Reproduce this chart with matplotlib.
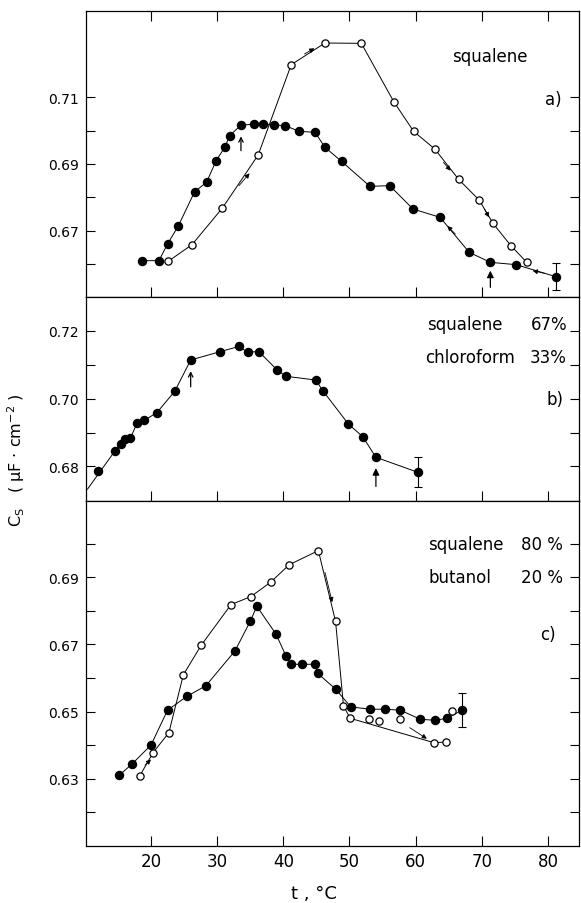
import matplotlib
matplotlib.use("Agg")
import matplotlib.pyplot as plt

plt.rcParams['font.family'] = ['DejaVu Sans']

# ---------------- data ----------------
# panel a) squalene
t_a_fill = [18.7, 21.2, 22.5, 24.1, 26.6, 28.4, 29.8, 31.2, 31.9, 33.6, 35.5, 36.9, 38.6,
            40.3, 42.4, 44.8, 46.3, 48.8, 53.1, 56.1, 59.6, 63.7, 68.1, 71.3, 75.2, 81.2]
v_a_fill = [0.6610, 0.6610, 0.6660, 0.6713, 0.6817, 0.6845, 0.6908, 0.6952, 0.6985, 0.7017,
            0.7019, 0.7019, 0.7017, 0.7015, 0.6998, 0.6995, 0.6950, 0.6908, 0.6833, 0.6835,
            0.6765, 0.6740, 0.6635, 0.6605, 0.6598, 0.6562]
t_a_open = [22.6, 26.2, 30.8, 36.2, 41.2, 46.3, 51.8, 56.7, 59.7, 62.9, 66.5, 69.6, 71.7, 74.4, 76.8]
v_a_open = [0.6608, 0.6658, 0.6768, 0.6927, 0.7198, 0.7263, 0.7262, 0.7087, 0.6998, 0.6945,
            0.6854, 0.6792, 0.6722, 0.6655, 0.6605]
err_a = 0.004

# panel b) squalene 67 % / chloroform 33 %
t_b_fill = [12.0, 14.6, 15.4, 16.0, 16.9, 17.9, 19.0, 20.9, 23.6, 26.0, 30.5, 33.3, 34.6,
            36.3, 39.0, 40.4, 44.9, 46.0, 49.8, 52.0, 54.0, 60.3]
v_b_fill = [0.6788, 0.6847, 0.6867, 0.6882, 0.6884, 0.6928, 0.6936, 0.6959, 0.7022, 0.7114,
            0.7139, 0.7154, 0.7137, 0.7139, 0.7086, 0.7066, 0.7055, 0.7023, 0.6926, 0.6888,
            0.6827, 0.6783]
t_b_curve_start = 10.4
v_b_curve_start = 0.6733
err_b = 0.0045

# panel c) squalene 80 % / butanol 20 %
t_c_fill = [15.2, 17.1, 20.0, 22.5, 25.4, 28.3, 32.7, 35.0, 36.0, 38.9, 40.4, 41.2, 42.9,
            44.8, 45.2, 47.9, 50.2, 53.1, 55.3, 57.7, 60.7, 62.9, 64.8, 67.0]
v_c_fill = [0.6310, 0.6343, 0.6400, 0.6504, 0.6545, 0.6577, 0.6681, 0.6769, 0.6814, 0.6731,
            0.6666, 0.6641, 0.6641, 0.6641, 0.6614, 0.6567, 0.6514, 0.6507, 0.6507, 0.6504,
            0.6477, 0.6474, 0.6480, 0.6504]
t_c_open = [18.3, 20.3, 22.7, 24.9, 27.6, 32.1, 35.1, 38.1, 40.9, 45.3, 47.9, 49.1, 50.1,
            53.0, 54.5, 57.6, 62.8, 64.6, 65.5]
v_c_open = [0.6308, 0.6377, 0.6437, 0.6610, 0.6698, 0.6819, 0.6843, 0.6886, 0.6938, 0.6980,
            0.6769, 0.6517, 0.6480, 0.6477, 0.6472, 0.6477, 0.6407, 0.6409, 0.6502]
c_open_curve_idx = [0, 1, 2, 3, 4, 5, 6, 7, 8, 9, 10, 11, 12, 16, 17]
err_c = 0.005

# arrows (tail t, tail v, head t, head v)
arrows_a_small = [(33.3, 0.6835, 34.9, 0.6872), (43.2, 0.7230, 44.7, 0.7247),
                  (64.2, 0.6905, 65.3, 0.6880), (70.4, 0.6765, 71.1, 0.6740),
                  (66.0, 0.6690, 64.8, 0.6714), (79.5, 0.6572, 77.7, 0.6580)]
arrows_a_big = [(33.6, 0.6940, 33.6, 0.6983, False), (71.3, 0.6530, 71.3, 0.6580, True)]
arrows_b_big = [(26.0, 0.7035, 26.0, 0.7081, False), (54.0, 0.6741, 54.0, 0.6795, True)]
arrows_c_small = [(19.1, 0.6340, 20.0, 0.6357), (46.3, 0.6915, 47.4, 0.6826),
                  (59.1, 0.6452, 61.7, 0.6419)]

x_ticks = [20, 30, 40, 50, 60, 70, 80]

# ---------------- figure ----------------
W, H = 581, 904
fig = plt.figure(figsize=(W / 100, H / 100), dpi=100)

L, R = 85.5, 579.0


def make_ax(top, bottom):
    return fig.add_axes([L / W, 1 - bottom / H, (R - L) / W, (bottom - top) / H])


ax_a = make_ax(12, 298)
ax_b = make_ax(298, 502)
ax_c = make_ax(502, 847)

fill_kw = dict(marker='o', ms=5.8, mfc='black', mec='black', ls='none', zorder=4)
open_kw = dict(marker='o', ms=5.2, mfc='white', mec='black', mew=0.9, ls='none', zorder=4)
line_kw = dict(color='black', lw=0.7, zorder=2)

for ax in (ax_a, ax_b, ax_c):
    ax.set_xlim(10.1, 84.7)
    ax.set_xticks(x_ticks)
    for sp in ax.spines.values():
        sp.set_linewidth(0.9)
    ax.tick_params(axis='x', direction='in', length=7, width=0.8, labelsize=12, pad=4)
    ax.tick_params(axis='y', direction='in', length=6.5, width=0.8, labelsize=10, pad=5,
                   left=True, right=True)

# panel a
ax_a.set_ylim(0.6501, 0.7359)
ax_a.set_yticks([0.66, 0.67, 0.68, 0.69, 0.70, 0.71])
ax_a.set_yticklabels(['', '0.67', '', '0.69', '', '0.71'])
ax_a.tick_params(axis='x', top=True, bottom=True, labelbottom=False)
ax_a.plot(t_a_fill, v_a_fill, **line_kw)
ax_a.plot(t_a_open, v_a_open, **line_kw)
ax_a.plot(t_a_fill, v_a_fill, **fill_kw)
ax_a.plot(t_a_open, v_a_open, **open_kw)
ax_a.errorbar([t_a_fill[-1]], [v_a_fill[-1]], yerr=[err_a], fmt='none', ecolor='black',
              elinewidth=0.8, capsize=3, capthick=0.8)

# panel b
ax_b.set_ylim(0.6698, 0.7300)
ax_b.set_yticks([0.68, 0.69, 0.70, 0.71, 0.72])
ax_b.set_yticklabels(['0.68', '', '0.70', '', '0.72'])
ax_b.tick_params(axis='x', top=False, bottom=True, labelbottom=False)
ax_b.plot([t_b_curve_start] + t_b_fill[1:], [v_b_curve_start] + v_b_fill[1:], **line_kw)
ax_b.plot(t_b_fill, v_b_fill, **fill_kw)
ax_b.errorbar([t_b_fill[-1]], [v_b_fill[-1]], yerr=[err_b], fmt='none', ecolor='black',
              elinewidth=0.8, capsize=3, capthick=0.8)

# panel c
ax_c.set_ylim(0.6099, 0.7128)
ax_c.set_yticks([0.62, 0.63, 0.64, 0.65, 0.66, 0.67, 0.68, 0.69, 0.70])
ax_c.set_yticklabels(['', '0.63', '', '0.65', '', '0.67', '', '0.69', ''])
ax_c.tick_params(axis='x', top=False, bottom=True, labelbottom=True)
ax_c.plot(t_c_fill, v_c_fill, **line_kw)
ax_c.plot([t_c_open[i] for i in c_open_curve_idx], [v_c_open[i] for i in c_open_curve_idx],
          **line_kw)
ax_c.plot(t_c_fill, v_c_fill, **fill_kw)
ax_c.plot(t_c_open, v_c_open, **open_kw)
ax_c.errorbar([t_c_fill[-1]], [v_c_fill[-1]], yerr=[err_c], fmt='none', ecolor='black',
              elinewidth=0.8, capsize=3, capthick=0.8)


def small_arrows(ax, arrs):
    for (t0, v0, t1, v1) in arrs:
        ax.annotate('', xy=(t1, v1), xytext=(t0, v0),
                    arrowprops=dict(arrowstyle='-|>', lw=0.6, color='black',
                                    mutation_scale=7, shrinkA=0, shrinkB=0), zorder=3)


def big_arrows(ax, arrs):
    for (t0, v0, t1, v1, filled) in arrs:
        ax.annotate('', xy=(t1, v1), xytext=(t0, v0),
                    arrowprops=dict(arrowstyle='-|>' if filled else '->', lw=0.9,
                                    color='black', mutation_scale=10 if filled else 8,
                                    shrinkA=0, shrinkB=0), zorder=3)


small_arrows(ax_a, arrows_a_small)
big_arrows(ax_a, arrows_a_big)
big_arrows(ax_b, arrows_b_big)
small_arrows(ax_c, arrows_c_small)

# ---------------- texts ----------------
fs = 12


def ftxt(x, y, s, ha='left', **kw):
    fig.text(x / W, 1 - y / H, s, ha=ha, va='baseline', fontsize=kw.pop('size', fs), **kw)


ftxt(452, 62, 'squalene')
ftxt(562, 105, 'a)', ha='right')

ftxt(427, 330, 'squalene')
ftxt(567, 330, '67%', ha='right')
ftxt(425, 363, 'chloroform')
ftxt(567, 363, '33%', ha='right')
ftxt(563, 405, 'b)', ha='right')

ftxt(428, 550, 'squalene')
ftxt(563, 550, '80 %', ha='right')
ftxt(429, 583, 'butanol')
ftxt(563, 583, '20 %', ha='right')
ftxt(556, 640, 'c)', ha='right')

# axis labels
fig.text(314 / W, 1 - 899 / H, 't , °C', ha='center', va='baseline', fontsize=13)
fig.text(16 / W, 1 - 460 / H, 'C$_\\mathregular{S}$   ( μF · cm$^{\\mathregular{-2}}$ )',
         rotation=90, ha='center', va='center', fontsize=11.5)

fig.savefig('out.png', dpi=100)
